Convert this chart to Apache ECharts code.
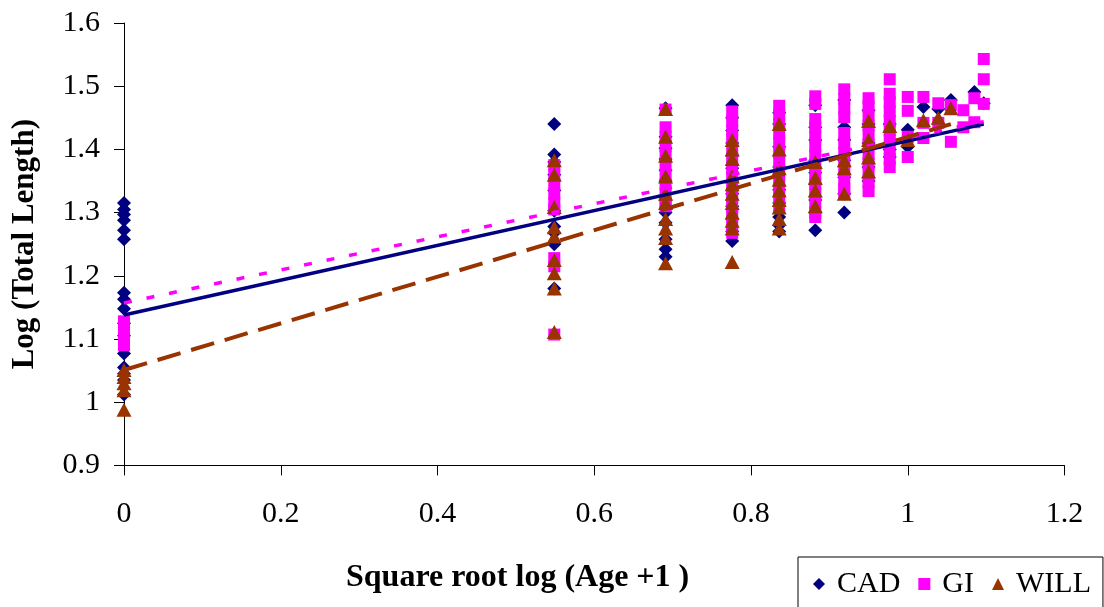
<!DOCTYPE html>
<html>
<head>
<meta charset="utf-8">
<script src="https://cdn.jsdelivr.net/npm/echarts@6/dist/echarts.min.js"></script>
<style>
  html, body { margin: 0; padding: 0; background: #ffffff; }
  #chart { width: 1104px; height: 607px; }
</style>
</head>
<body>
<div id="chart"></div>
<script>
// x position of each age class: sqrt(log10(age + 1)) for ages 0..15
const ageX = [0, 0.549, 0.691, 0.776, 0.836, 0.882, 0.919, 0.950, 0.977, 1.000, 1.020, 1.039, 1.055, 1.071, 1.085, 1.097];

// log(total length) per age class, one list per population
const cadY = [
  [1.315, 1.305, 1.297, 1.288, 1.272, 1.258, 1.173, 1.163, 1.148, 1.125, 1.105, 1.077, 1.055, 1.045, 1.035, 1.012],
  [1.44, 1.392, 1.38, 1.36, 1.335, 1.303, 1.278, 1.268, 1.25, 1.18],
  [1.465, 1.42, 1.402, 1.385, 1.367, 1.35, 1.32, 1.30, 1.284, 1.258, 1.242, 1.23],
  [1.47, 1.45, 1.43, 1.41, 1.39, 1.37, 1.35, 1.33, 1.31, 1.29, 1.27, 1.255],
  [1.458, 1.44, 1.404, 1.372, 1.336, 1.315, 1.293, 1.28, 1.27],
  [1.47, 1.435, 1.415, 1.383, 1.363, 1.345, 1.32, 1.30, 1.272],
  [1.478, 1.435, 1.415, 1.383, 1.356, 1.33, 1.30],
  [1.462, 1.44, 1.41, 1.372, 1.35],
  [1.44, 1.40, 1.388],
  [1.431, 1.404],
  [1.467],
  [1.464],
  [1.478],
  [],
  [1.491],
  [1.473]
];

const giY = [
  [1.128, 1.118, 1.108, 1.098, 1.09],
  [1.375, 1.36, 1.345, 1.33, 1.315, 1.305, 1.228, 1.215, 1.107],
  [1.463, 1.435, 1.42, 1.405, 1.39, 1.375, 1.36, 1.345, 1.33, 1.315, 1.31],
  [1.46, 1.445, 1.43, 1.415, 1.40, 1.385, 1.37, 1.355, 1.34, 1.325, 1.31, 1.295, 1.28, 1.268],
  [1.469, 1.455, 1.44, 1.425, 1.41, 1.395, 1.38, 1.365, 1.35, 1.335, 1.32, 1.309],
  [1.484, 1.472, 1.448, 1.435, 1.42, 1.405, 1.39, 1.375, 1.36, 1.345, 1.33, 1.315, 1.30, 1.293],
  [1.495, 1.48, 1.465, 1.451, 1.426, 1.41, 1.395, 1.38, 1.365, 1.35, 1.338, 1.33],
  [1.481, 1.468, 1.453, 1.438, 1.423, 1.408, 1.393, 1.378, 1.363, 1.348, 1.334],
  [1.511, 1.488, 1.475, 1.46, 1.445, 1.43, 1.415, 1.40, 1.385, 1.372],
  [1.483, 1.461, 1.42, 1.388],
  [1.483, 1.442, 1.418],
  [1.473, 1.442],
  [1.47, 1.412],
  [1.462, 1.435],
  [1.481, 1.443],
  [1.543, 1.511, 1.472]
];

const willY = [
  [1.051, 1.04, 1.03, 1.019, 0.988],
  [1.383, 1.36, 1.309, 1.277, 1.262, 1.225, 1.204, 1.18, 1.111],
  [1.464, 1.42, 1.39, 1.357, 1.33, 1.315, 1.29, 1.275, 1.26, 1.22],
  [1.415, 1.40, 1.385, 1.357, 1.345, 1.33, 1.315, 1.30, 1.287, 1.275, 1.222],
  [1.44, 1.40, 1.37, 1.352, 1.335, 1.32, 1.308, 1.29, 1.275],
  [1.38, 1.355, 1.335, 1.31],
  [1.383, 1.37, 1.33],
  [1.445, 1.415, 1.387, 1.365],
  [1.437],
  [1.415],
  [1.446],
  [1.45],
  [1.465],
  [],
  [],
  []
];

// fitted linear trends, as end points [x, y]
const cadTrend = [[0, 1.138], [1.097, 1.44]];
const giTrend = [[0, 1.157], [1.097, 1.444]];
const willTrend = [[0, 1.051], [1.055, 1.44]];

const xTicks = { min: 0, max: 1.2, step: 0.2 };
const yTicks = { min: 0.9, max: 1.6, step: 0.1 };

function toPoints(cols) {
  const pts = [];
  cols.forEach((ys, i) => ys.forEach(y => pts.push([ageX[i], y])));
  return pts;
}

const serif = 'Liberation Serif, Times New Roman, serif';
const NAVY = '#000080', MAGENTA = '#FF00FF', BROWN = '#993300';

const chart = echarts.init(document.getElementById('chart'), null, { renderer: 'canvas' });

chart.setOption({
  animation: false,
  backgroundColor: '#ffffff',
  grid: { left: 124, right: 39.5, top: 23, bottom: 141.6, outerBoundsMode: 'none', containLabel: false },
  title: {
    text: 'Square root log (Age +1 )',
    left: 346, top: 562, padding: 0,
    textStyle: { fontFamily: serif, fontSize: 32, fontWeight: 'bold', color: '#000' }
  },
  legend: {
    left: 798, top: 557,
    orient: 'horizontal',
    borderColor: '#000', borderWidth: 1,
    padding: [12, 12, 24, 15],
    itemWidth: 12, itemHeight: 12, itemGap: 18,
    textStyle: { fontFamily: serif, fontSize: 30, color: '#000', padding: [0, 0, 0, 7] },
    data: [
      { name: 'CAD', icon: 'diamond' },
      { name: 'GI', icon: 'rect' },
      { name: 'WILL', icon: 'triangle' }
    ]
  },
  xAxis: {
    type: 'value', min: xTicks.min, max: xTicks.max, interval: xTicks.step,
    splitLine: { show: false },
    axisLine: { show: true, onZero: false, lineStyle: { color: '#000', width: 1 } },
    axisTick: { show: true, inside: false, length: 10, lineStyle: { color: '#000' } },
    axisLabel: { fontFamily: serif, fontSize: 30, color: '#000', margin: 34 }
  },
  yAxis: {
    type: 'value', min: yTicks.min, max: yTicks.max, interval: yTicks.step,
    name: 'Log (Total Length)', nameLocation: 'middle', nameRotate: 90, nameGap: 84,
    nameTextStyle: { fontFamily: serif, fontSize: 31, fontWeight: 'bold', color: '#000' },
    splitLine: { show: false },
    axisLine: { show: true, onZero: false, lineStyle: { color: '#000', width: 1 } },
    axisTick: { show: true, inside: false, length: 10, lineStyle: { color: '#000' } },
    axisLabel: { fontFamily: serif, fontSize: 30, color: '#000', margin: 24 }
  },
  series: [
    { name: 'CAD', type: 'scatter', symbol: 'diamond', symbolSize: 14, z: 2,
      itemStyle: { color: NAVY, opacity: 1 }, data: toPoints(cadY) },
    { name: 'GI', type: 'scatter', symbol: 'rect', symbolSize: 12, z: 3,
      itemStyle: { color: MAGENTA, opacity: 1 }, data: toPoints(giY) },
    { name: 'WILL', type: 'scatter', symbol: 'triangle', symbolSize: [15, 14], z: 4,
      itemStyle: { color: BROWN, opacity: 1 }, data: toPoints(willY) },
    { name: 'CAD trend', type: 'line', data: cadTrend, symbol: 'none', z: 6, silent: true,
      lineStyle: { color: NAVY, width: 3.5, type: 'solid' } },
    { name: 'GI trend', type: 'line', data: giTrend, symbol: 'none', z: 6, silent: true,
      lineStyle: { color: MAGENTA, width: 3.5, type: [8, 15] } },
    { name: 'WILL trend', type: 'line', data: willTrend, symbol: 'none', z: 6, silent: true,
      lineStyle: { color: BROWN, width: 4, type: [24, 11] } }
  ]
});
</script>
</body>
</html>
